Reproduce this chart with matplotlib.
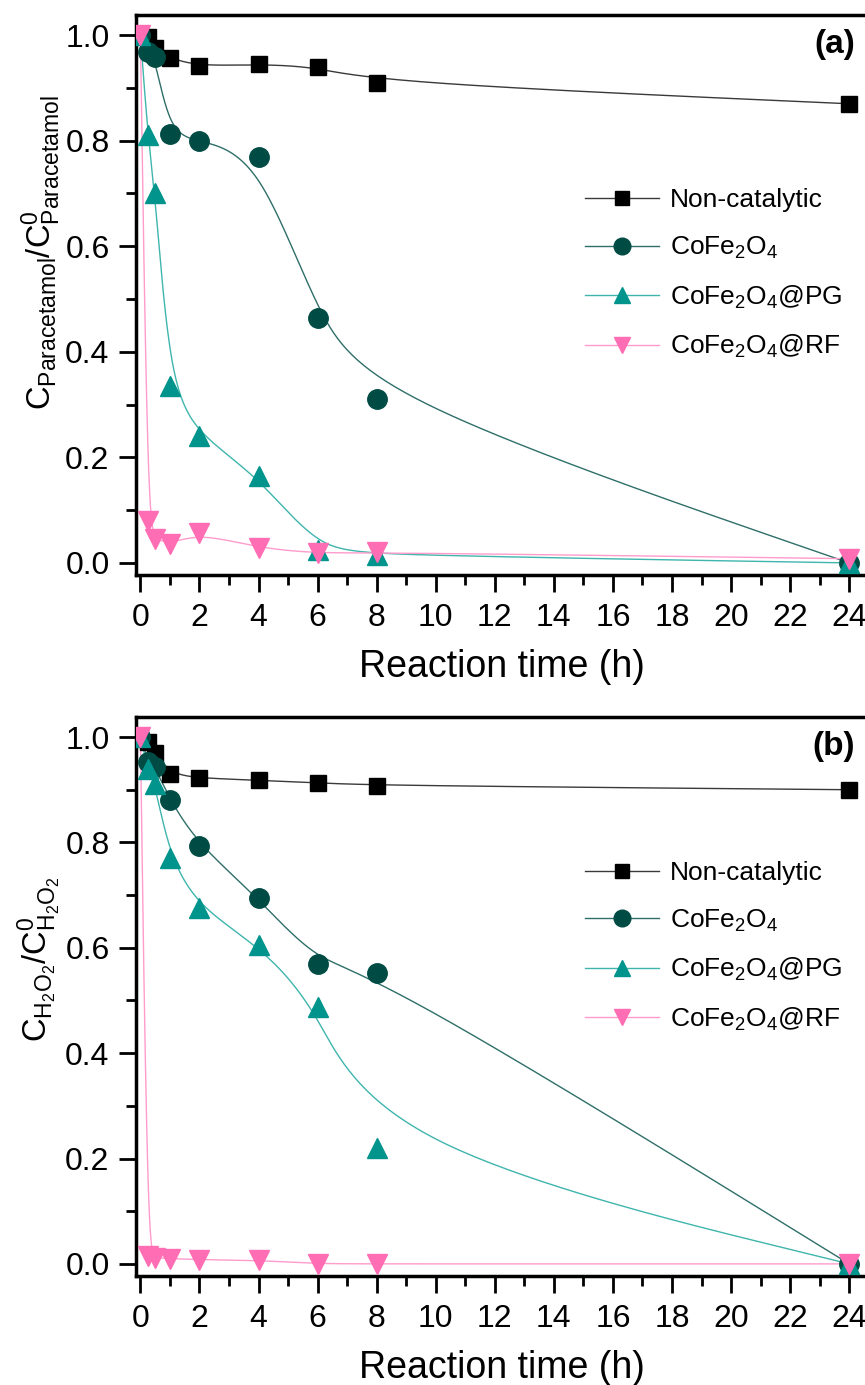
import matplotlib
matplotlib.use("Agg")
import matplotlib.pyplot as plt
import numpy as np

plt.rcParams['font.family'] = 'Liberation Sans'
plt.rcParams['mathtext.fontset'] = 'custom'
plt.rcParams['mathtext.rm'] = 'Liberation Sans'
plt.rcParams['mathtext.it'] = 'Liberation Sans'

time_h = [0, 0.25, 0.5, 1, 2, 4, 6, 8, 24]

# panel (a): paracetamol
para_noncat = [1.0, 0.996, 0.975, 0.956, 0.941, 0.945, 0.94, 0.91, 0.87]
para_cofe = [1.0, 0.968, 0.958, 0.812, 0.80, 0.77, 0.465, 0.31, 0.0]
para_pg = [1.0, 0.81, 0.70, 0.335, 0.24, 0.165, 0.025, 0.015, 0.0]
para_rf = [1.0, 0.08, 0.045, 0.035, 0.057, 0.028, 0.018, 0.02, 0.008]

# panel (b): H2O2
h2o2_noncat = [1.0, 0.99, 0.97, 0.93, 0.922, 0.918, 0.913, 0.908, 0.90]
h2o2_cofe = [1.0, 0.953, 0.943, 0.88, 0.793, 0.695, 0.57, 0.553, 0.0]
h2o2_pg = [1.0, 0.94, 0.91, 0.77, 0.675, 0.605, 0.487, 0.22, 0.0]
h2o2_rf = [1.0, 0.015, 0.012, 0.01, 0.008, 0.007, 0.0, 0.0, 0.0]

labels = ['Non-catalytic', r'CoFe$_2$O$_4$', r'CoFe$_2$O$_4$@PG', r'CoFe$_2$O$_4$@RF']
markers = ['s', 'o', '^', 'v']
marker_colors = ['#000000', '#004c45', '#00948c', '#ff6eb4']
line_colors = ['#3a3a3a', '#2f6f69', '#3fb5ad', '#ff9ccc']
msizes = [12, 14, 14, 14]


def bspline(x, y, n=40):
    # clamped uniform cubic B-spline, data points used as control points
    p = np.column_stack([x, y]).astype(float)
    p = np.vstack([p[:1], p[:1], p, p[-1:], p[-1:]])
    t = np.linspace(0, 1, n)
    b = np.column_stack([(1 - t) ** 3, 3 * t ** 3 - 6 * t ** 2 + 4,
                         -3 * t ** 3 + 3 * t ** 2 + 3 * t + 1, t ** 3]) / 6
    segs = [b @ p[i:i + 4] for i in range(len(p) - 3)]
    c = np.vstack(segs)
    return c[:, 0], c[:, 1]


def panel(ax, series, ylabel, tag, ylab_y, leg_y):
    for k, ys in enumerate(series):
        sx, sy = bspline(time_h, ys)
        ax.plot(sx, sy, color=line_colors[k], lw=1.0, zorder=2)
    for k, ys in enumerate(series):
        ax.plot(time_h, ys, ls='none', marker=markers[k], ms=msizes[k],
                color=marker_colors[k], mec=marker_colors[k], zorder=3 + k * 0.1)
    handles = [plt.Line2D([], [], color=line_colors[k], lw=1.0, marker=markers[k],
                          ms=msizes[k] - 2, mfc=marker_colors[k], mec=marker_colors[k])
               for k in range(4)]
    ax.legend(handles, labels, loc='upper left', bbox_to_anchor=(0.582, leg_y),
              frameon=False, fontsize=19, handlelength=2.8, labelspacing=0.85,
              handletextpad=0.4)
    ax.set_xlim(-0.15, 24.6)
    ax.set_ylim(-0.023, 1.038)
    ax.set_xticks(np.arange(0, 25, 2))
    ax.set_xticks(np.arange(1, 25, 2), minor=True)
    ax.set_yticks(np.arange(0, 1.01, 0.2))
    ax.set_yticks(np.arange(0.1, 1.0, 0.2), minor=True)
    ax.set_yticklabels(['%.1f' % v for v in np.arange(0, 1.01, 0.2)])
    ax.tick_params(which='major', direction='out', length=12, width=2, labelsize=23)
    ax.tick_params(axis='y', which='major', pad=7)
    ax.tick_params(axis='x', which='major', pad=8)
    ax.tick_params(which='minor', direction='out', length=7, width=2)
    for s in ax.spines.values():
        s.set_linewidth(2.5)
    ax.set_xlabel('Reaction time (h)', fontsize=27, labelpad=12)
    ax.set_ylabel(ylabel, fontsize=23.5)
    ax.yaxis.set_label_coords(-0.1, ylab_y)
    ax.text(0.984, 0.975, tag, transform=ax.transAxes, ha='right', va='top',
            fontsize=24, fontweight='bold')


fig = plt.figure(figsize=(8.65, 13.85), dpi=100)
ax_a = fig.add_axes([0.1572, 0.5848, 0.845, 0.4043])
ax_b = fig.add_axes([0.1572, 0.0787, 0.845, 0.4036])

panel(ax_a, [para_noncat, para_cofe, para_pg, para_rf],
      r'$\mathregular{C_{Paracetamol}/C^{0}_{Paracetamol}}$', '(a)', 0.575, 0.733)
panel(ax_b, [h2o2_noncat, h2o2_cofe, h2o2_pg, h2o2_rf],
      r'$\mathregular{C_{H_2O_2}/C^{0}_{H_2O_2}}$', '(b)', 0.566, 0.785)

fig.savefig('out.png', dpi=100)
